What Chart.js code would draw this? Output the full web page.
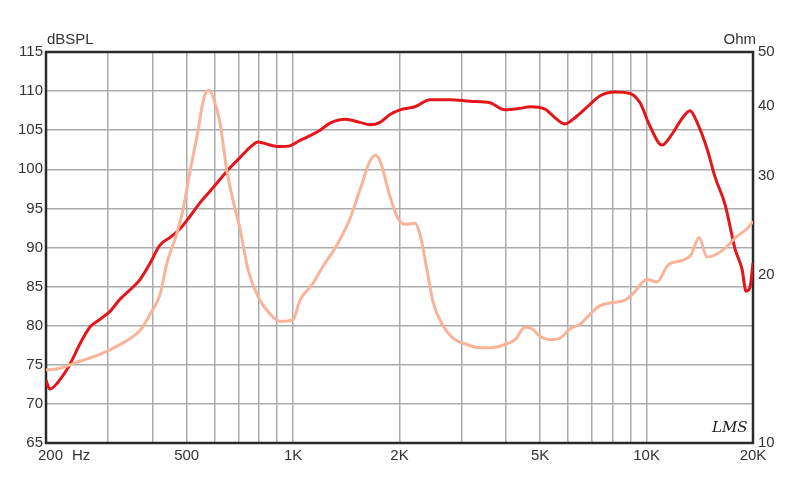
<!DOCTYPE html>
<html>
<head>
<meta charset="utf-8">
<script src="https://cdn.jsdelivr.net/npm/chart.js@4/dist/chart.umd.min.js"></script>
<style>
  html, body { margin: 0; padding: 0; background: #ffffff; }
  #wrap { width: 800px; height: 484px; position: relative; }
</style>
</head>
<body>
<div id="wrap"><canvas id="c" width="800" height="484"></canvas></div>
<script>
// ---- Data ----
const splFreq = [200,205,219,234,249,266,284,303,324,346,369,394,420,449,479,511,545,582,621,663,708,755,796,861,919,980,1046,1117,1192,1272,1402,1547,1650,1762,1880,2006,2212,2440,2779,3166,3606,3977,4386,4680,5160,5509,5876,6272,6917,7384,8140,8977,9582,10227,11058,11804,12600,13275,13893,14832,15625,16673,17795,18628,19110,19610,20000];
const splDb = [73.0,71.9,73.1,75.1,77.6,79.8,80.8,81.8,83.4,84.6,85.9,88.0,90.3,91.3,92.4,94.0,95.7,97.2,98.7,100.2,101.5,102.8,103.5,103.1,102.9,103.0,103.7,104.3,105.0,105.9,106.4,106.0,105.7,106.0,107.0,107.6,108.0,108.9,108.9,108.7,108.5,107.6,107.8,108.0,107.7,106.6,105.8,106.6,108.3,109.4,109.9,109.7,108.5,105.5,103.1,104.5,106.5,107.5,106.0,102.6,99.0,95.5,89.8,87.2,84.4,84.9,88.0];

const impFreq = [200,219,249,284,324,369,394,420,440,469,488,511,535,560,578,598,621,650,676,708,746,806,861,919,999,1046,1139,1215,1331,1449,1547,1650,1705,1762,1880,1981,2073,2212,2285,2392,2487,2655,2834,3105,3379,3606,3977,4244,4529,4741,4995,5331,5689,6072,6480,6917,7384,7881,8690,9155,10028,10702,11498,12600,13360,14074,14832,16395,17851,19292,20000];
const impOhm = [13.5,13.6,14.0,14.4,15.0,15.9,17.0,18.4,21.0,23.7,26.1,30.6,35.4,41.5,42.7,41.0,37.4,30.6,27.2,24.1,20.4,18.0,17.0,16.5,16.6,18.0,19.3,20.7,22.6,25.2,28.4,31.9,32.7,31.9,27.6,25.2,24.6,24.7,23.6,20.4,17.9,16.2,15.4,15.0,14.8,14.8,15.0,15.3,16.1,16.0,15.5,15.3,15.4,16.0,16.3,17.0,17.6,17.8,18.0,18.5,19.6,19.4,20.8,21.2,21.7,23.3,21.5,22.1,23.3,24.2,24.9];

const xTicks = [200,300,400,500,600,700,800,900,1000,2000,3000,4000,5000,6000,7000,8000,9000,10000,20000];
const xTickLabels = {500:'500',1000:'1K',2000:'2K',5000:'5K',10000:'10K',20000:'20K'};
const ohmTicks = [10,20,30,40,50];

const FONT = '"Liberation Sans", Arial, sans-serif';
const TXT = '#333333';
const GRID = '#ababab';

const extras = {
  id: 'extras',
  beforeDatasetsDraw(chart) {
    const {ctx, chartArea: a} = chart;
    ctx.save();
    ctx.strokeStyle = '#2a2a2a';
    ctx.lineWidth = 2.5;
    ctx.strokeRect(a.left, a.top, a.right - a.left, a.bottom - a.top);
    ctx.restore();
  },
  afterDraw(chart) {
    const {ctx, chartArea: a} = chart;
    ctx.save();
    ctx.fillStyle = TXT;
    ctx.font = '15px ' + FONT;
    ctx.textBaseline = 'middle';
    ctx.textAlign = 'left';
    ctx.fillText('dBSPL', a.left + 1, 40);
    ctx.textAlign = 'right';
    ctx.fillText('Ohm', a.right + 3, 40);
    ctx.textAlign = 'left';
    ctx.fillText('200', 38, 456);
    ctx.fillText('Hz', 72, 456);
    ctx.fillStyle = '#1a1a1a';
    ctx.font = 'italic 15px "DejaVu Serif", serif';
    ctx.fillText('LMS', 712, 428);
    ctx.restore();
  }
};

new Chart(document.getElementById('c'), {
  type: 'line',
  data: {
    datasets: [
      {
        label: 'Impedance',
        data: impFreq.map((f, i) => ({x: f, y: impOhm[i]})),
        yAxisID: 'yR',
        borderColor: '#f9b399',
        borderWidth: 3,
        pointRadius: 0,
        cubicInterpolationMode: 'monotone',
        fill: false
      },
      {
        label: 'SPL',
        data: splFreq.map((f, i) => ({x: f, y: splDb[i]})),
        yAxisID: 'yL',
        borderColor: '#e5161b',
        borderWidth: 3,
        pointRadius: 0,
        cubicInterpolationMode: 'monotone',
        fill: false
      }
    ]
  },
  options: {
    responsive: false,
    animation: false,
    events: [],
    layout: { padding: { top: 52, left: 0, right: 0, bottom: 0 } },
    plugins: { legend: { display: false }, tooltip: { enabled: false } },
    scales: {
      x: {
        type: 'logarithmic',
        min: 200, max: 20000,
        afterBuildTicks(s) { s.ticks = xTicks.map(v => ({value: v})); },
        afterFit(s) { s.height = 41; },
        ticks: {
          autoSkip: false, maxRotation: 0, minRotation: 0, padding: 4,
          color: TXT, font: { family: FONT, size: 15 },
          callback(v) { return xTickLabels[v] || ''; }
        },
        grid: { color: GRID, lineWidth: 1.5, drawTicks: false },
        border: { display: false }
      },
      yL: {
        type: 'linear', position: 'left',
        min: 65, max: 115,
        afterFit(s) { s.width = 46; },
        ticks: { stepSize: 5, padding: 3, color: TXT, font: { family: FONT, size: 15 } },
        grid: { color: GRID, lineWidth: 1.5, drawTicks: false },
        border: { display: false }
      },
      yR: {
        type: 'logarithmic', position: 'right',
        min: 10, max: 50,
        afterBuildTicks(s) { s.ticks = ohmTicks.map(v => ({value: v})); },
        afterFit(s) { s.width = 47; },
        ticks: { padding: 5, color: TXT, font: { family: FONT, size: 15 },
          callback(v) { return String(v); } },
        grid: { display: false, drawTicks: false },
        border: { display: false }
      }
    }
  },
  plugins: [extras]
});
</script>
</body>
</html>
